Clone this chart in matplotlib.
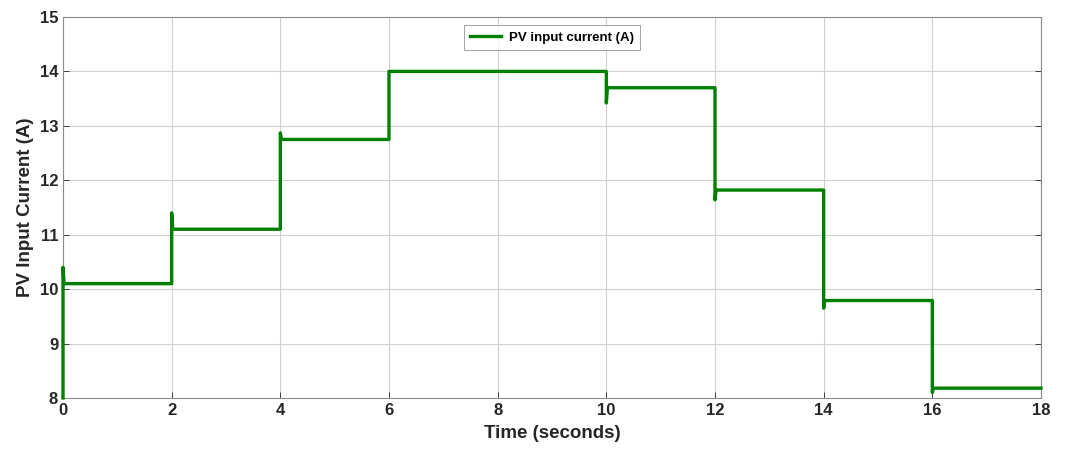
import matplotlib
matplotlib.use("Agg")
from matplotlib import pyplot as plt
import numpy as np

plt.rcParams['font.family'] = ['Liberation Sans', 'DejaVu Sans']
plt.rcParams['font.weight'] = 'bold'

# step instants (s), settled current after each step (A), transient peak at each step (A)
step_times = [0, 2, 4, 6, 10, 12, 14, 16]
levels = [10.1, 11.1, 12.75, 14.0, 13.7, 11.82, 9.79, 8.18]
peaks = [10.4, 11.4, 12.87, 14.0, 13.42, 11.64, 9.65, 8.1]
start_value = 8.0
t_end = 18.0
settle = 0.02

t = []
i = []
prev = start_value
for tk, lk, pk in zip(step_times, levels, peaks):
    t += [tk, tk, tk + settle]
    i += [prev, pk, lk]
    prev = lk
t.append(t_end)
i.append(prev)
t = np.array(t)
i = np.array(i)

fig = plt.figure(figsize=(10.68, 4.59), dpi=100)
ax = fig.add_axes([0.059, 0.133, 0.9157, 0.830])

ax.plot(t, i, color='#008000', linewidth=2.4, label='PV input current (A)',
        clip_on=False, zorder=3)

ax.set_xlim(0, 18)
ax.set_ylim(8, 15)
ax.set_xticks(np.arange(0, 19, 2))
ax.set_yticks(np.arange(8, 16, 1))
ax.grid(True, color='#d0d0d0', linewidth=0.8)
ax.set_axisbelow(True)
ax.tick_params(direction='in', labelsize=12, colors='#262626', length=4,
               width=0.6, top=False, right=True)
for s in ax.spines.values():
    s.set_color('#8c8c8c')
    s.set_linewidth(0.8)

ax.set_xlabel('Time (seconds)', fontsize=13.5, fontweight='bold', color='#262626', labelpad=5)
ax.set_ylabel('PV Input Current (A)', fontsize=13.5, fontweight='bold', color='#262626', labelpad=4)

leg = ax.legend(loc='upper center', fontsize=9.5, frameon=True, fancybox=False,
                handlelength=2.3, handletextpad=0.6, borderpad=0.45,
                bbox_to_anchor=(0.5, 0.995))
leg.get_frame().set_edgecolor('#8c8c8c')
leg.get_frame().set_linewidth(0.7)

fig.savefig('out.png', dpi=100)
